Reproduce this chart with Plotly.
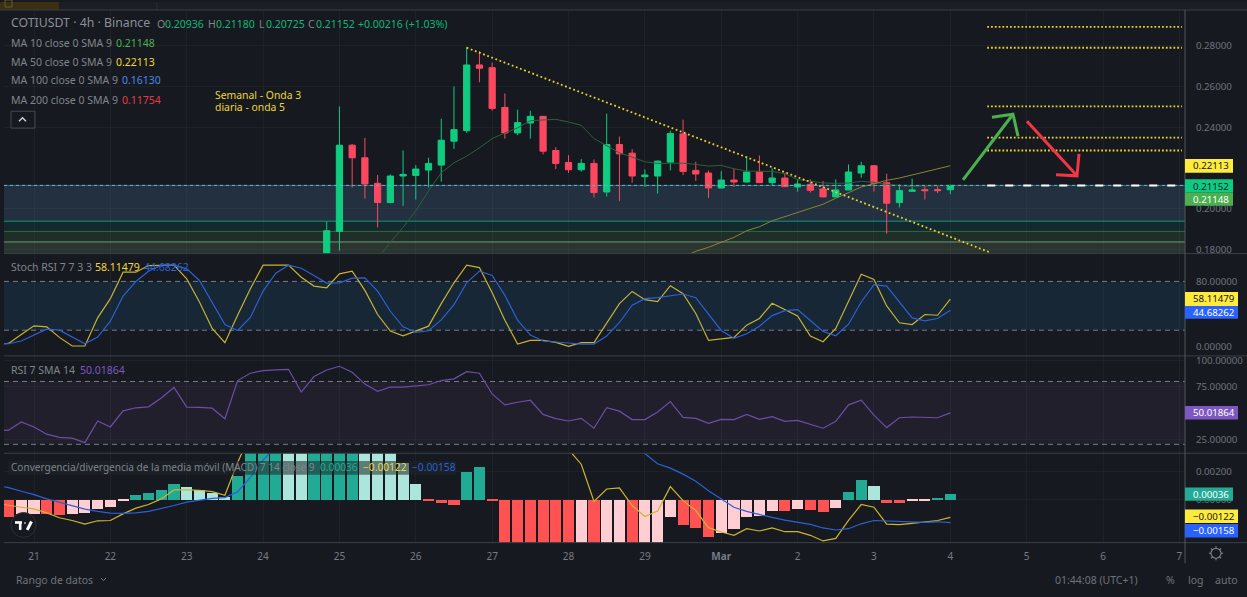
import plotly.graph_objects as go

W, H = 1247, 597
BG = "#161a20"
FONT = "Noto Sans"

# ---------- data ----------
candle_first_bar = 23
opens = [.17000,.18894,.23122,.22504,.21252,.20309,.21610,.21642,.21903,.22146,.23317,.23837,.27057,.26927,.24976,.23724,.24211,.24537,.22862,.22276,.21919,.22228,.20829,.23155,.22732,.21577,.21609,.22292,.23675,.21886,.21756,.21024,.21414,.21317,.21805,.21284,.21512,.21073,.21203,.20975,.20585,.20927,.21756,.22114,.21284,.20309,.20861,.20943,.20943,.20936]
highs = [.19382,.25024,.23187,.23480,.21659,.21691,.22862,.22146,.22504,.24423,.26000,.27951,.27740,.27171,.25659,.24862,.24813,.24537,.23024,.22634,.22439,.22423,.24667,.23545,.22927,.21935,.22374,.23837,.24374,.22309,.21886,.21853,.21967,.22585,.22618,.21983,.21772,.21447,.21447,.21366,.21447,.22179,.22309,.22146,.21723,.21203,.21479,.21122,.21171,.21180]
lows = [.16900,.17951,.21041,.20504,.19090,.20276,.20146,.20455,.21041,.21333,.22943,.23724,.26211,.24813,.23447,.23610,.23447,.22667,.21951,.21756,.21821,.20553,.20602,.20390,.21285,.21073,.20748,.21886,.21658,.21366,.20536,.21010,.21073,.21284,.21284,.21170,.21073,.20845,.20796,.20585,.20569,.20927,.21528,.20845,.18780,.20065,.20845,.20455,.20780,.20725]
closes = [.18927,.23122,.22504,.21220,.20309,.21610,.21691,.21951,.22228,.23366,.23886,.27057,.26894,.24927,.23724,.24228,.24537,.22829,.22228,.21919,.22228,.20797,.23155,.22699,.21610,.21659,.22341,.23691,.21837,.21707,.21024,.21414,.21317,.21805,.21284,.21512,.21089,.21219,.20910,.20585,.20927,.21805,.22114,.21252,.20276,.20894,.20927,.20894,.20894,.21152]

ma10_first_bar = 27
ma10 = [.17545,.18358,.19090,.19903,.20878,.21772,.22260,.22585,.22992,.23447,.23724,.23968,.24325,.24374,.24390,.24260,.24098,.23447,.23106,.22748,.22537,.22309,.22228,.22244,.22244,.22179,.22097,.22130,.21967,.21853,.21837,.21837,.21723,.21431,.21366,.21268,.21252,.21268,.21349,.21301,.21203,.21154,.21089,.21122,.21122,.21148]
ma50_first_bar = 51
ma50 = [.17626,.17918,.18114,.18374,.18601,.18927,.19122,.19414,.19626,.19821,.20032,.20227,.20520,.20796,.21073,.21235,.21398,.21512,.21658,.21805,.21967,.22113]

trend_bars = [34.0, 75.1]
trend_prices = [.27902, .17868]
level_bars = [74.9, 90.2]
fib_levels = [.28927, .27902, .25024, .23498, .22863]
last_price = .2115
zone_levels = [.2115, .19395, .18893, .18376, .17805]
zone_colors = ["#22303f", "#14292e", "#1f2e29", "#2a352f"]
zone_lines = ["#2f6f8f", "#12977f", "#2f6b3a", "#6f9a76"]

ind_first_bar = -3
stoch_k = [2.6,3.8,14.8,25.4,24.2,11.2,.6,.6,35.2,58.8,91.3,91.3,99.5,100,100,83.2,54.7,22.2,4.7,38.4,71,100,100,100,85.2,74.3,72.2,89.3,92.6,69,39.3,18.9,13.2,18.9,25,52.7,78.3,100,97,66.1,32.3,3,7.5,7.5,5.1,.2,4.7,4.7,29.1,52.7,67.7,57.6,55.1,74.7,64.9,40.5,7.5,9.1,11.2,26.2,34.4,53.1,45.8,37.6,12.8,5.9,22.2,54.7,88.9,82.4,49.8,29.1,27,39.3,38.4,58.11]
stoch_d = [2.6,3.4,6.7,14,21.3,20.1,12,3.4,11.6,31.1,62,79.9,92.6,100,100,95.4,81.2,54.7,27,19.7,35.6,68.1,90.1,100,96.2,87.3,77.9,78.3,84,84.4,68.1,43.3,24.2,17.3,19.3,32.7,51.5,78.3,92.6,87.3,62.9,32.3,14,6.7,5.9,4.3,3,3,12.8,29.5,50.7,58.8,60,62.5,64.5,60,39.3,19.7,10,15.7,25,38,44.1,45.4,31.9,18.5,13.2,27.4,54.7,75.9,74.3,54.7,35.2,31.5,34.4,44.68]
rsi = [32.9,33.5,41.4,36.6,29.7,26.6,26,21.6,42.3,36.6,52,54.9,55.8,64.3,74.3,55.5,55.2,54.5,44.5,80.9,87.9,90.4,91,91.6,69.9,84.7,91,94.5,88.8,77.5,70.6,74.7,74.7,75.6,76.9,80.9,82.5,89.4,87.9,68.1,57.7,60.2,62.1,48.6,44.5,42.3,44.8,35.4,54.9,51.7,43.6,43.6,50.8,60.8,45.8,44.8,40.1,43.9,43.6,48.6,43.9,46.4,42,42.9,39.5,35.4,42,57.7,62.1,47.9,36,45.4,46.1,45.4,45.4,50.02]
macd = [-.00023,-.00039,-.00051,-.00062,-.0009,-.00124,-.00143,-.00168,-.00145,-.00143,-.00097,-.00057,-.00032,.00007,.00069,.00069,.00067,.00057,.00032,.0026,.005,.0065,.0075,.0078,.008,.0085,.009,.0092,.009,.009,.0088,.0086,.008,.0075,.0075,.008,.0082,.0095,.0098,.0085,.0075,.0068,.0065,.0055,.0048,.0035,.00248,-.00011,.00076,.00083,-.00039,-.00115,-.00078,.00092,-.00005,-.00074,-.00193,-.00223,-.00246,-.002,-.00216,-.00195,-.00221,-.00221,-.00246,-.00285,-.00267,-.00143,-.00032,-.00051,-.00168,-.00172,-.00163,-.00154,-.00143,-.00122]
signal = [.00103,.00085,.0006,.00037,.00007,-.00016,-.00039,-.00064,-.0008,-.00092,-.00094,-.0009,-.0008,-.00062,-.00039,-.00016,0,.00011,.00016,.00057,.00156,.00276,.0037,.0046,.0053,.006,.0066,.0071,.0074,.0077,.0078,.0079,.0079,.0078,.0077,.0076,.0078,.008,.0082,.0082,.008,.0078,.0075,.0072,.0068,.0062,.0058,.0055,.005,.0045,.0041,.00322,.00251,.00221,.00179,.00129,.00064,.00007,-.00051,-.0008,-.00103,-.00122,-.0014,-.00154,-.0017,-.00195,-.00209,-.002,-.00166,-.00143,-.00145,-.00149,-.00154,-.00156,-.00152,-.00158]
hist_first_bar = -2
hist = [-.00124,-.00099,-.00097,-.00103,-.00108,-.00097,-.00092,-.00064,-.00048,-.00011,.0003,.00048,.00069,.00108,.0009,.00064,.00048,.00021,.00163,.0036,.0045,.005,.0048,.0042,.0046,.0047,.0048,.005,.0046,.0042,.0036,.00253,.0011,-.00011,-.00023,-.00039,.00195,.0023,-.00011,-.0042,-.005,-.0055,-.0056,-.0058,-.006,-.0056,-.0058,-.0052,-.0045,-.0046,-.0038,-.0032,-.00124,-.00175,-.00195,-.00257,-.0023,-.00202,-.00124,-.00115,-.00076,-.0008,-.00064,-.00069,-.00085,-.00057,.00053,.00136,.00097,-.00021,-.00021,-.00009,-.00005,.00014,.00036]
hist_tone = "RPPRRPPPPPTTTTLLLLTTTTLLTTTTLLLLLRRRTTRRRRRRRPRPPRPPPRRRPPPPPRPRRPTTLRRPPTT"
tone_colors = {"R": "#ff5252", "P": "#ffcdd2", "T": "#22ab94", "L": "#ace5dc"}

day_ticks = [0, 6, 12, 18, 24, 30, 36, 42, 48, 54, 60, 66, 72, 78, 84, 90]
day_labels = ["21","22","23","24","25","26","27","28","29","<b>Mar</b>","2","3","4","5","6","7"]
price_ticks = [.18, .20, .24, .26, .28]
stoch_ticks = [0, 80]
rsi_ticks = [25, 75, 100]
macd_ticks = [0, .002]

# ---------- pixel layout ----------
LEFT, RIGHT = 4, 1185
panes = [(8, 253.3), (253.3, 356.3), (356.3, 454.3), (454.3, 544.3)]
ranges = [(.17805, .29756), (-11.6, 114.2), (11.5, 104.4), (-.00297, .00324)]
XR = [-2.357, 90.44]
def px(x): return x / W
def py(y): return 1 - y / H

def bars(first, n): return list(range(first, first + n))

fig = go.Figure()
AX = ["x", "x2", "x3", "x4"]
AY = ["y", "y2", "y3", "y4"]

fig.add_trace(go.Candlestick(
    x=bars(candle_first_bar, len(closes)), open=opens, high=highs, low=lows, close=closes,
    increasing=dict(line=dict(color="#10cc80", width=1), fillcolor="#10cc80"),
    decreasing=dict(line=dict(color="#fb4860", width=1), fillcolor="#fb4860"),
    whiskerwidth=0, hoverinfo="skip", xaxis="x", yaxis="y"))

def line(x, y, color, width=1, dash="solid", ax=0, opacity=1):
    fig.add_trace(go.Scatter(x=x, y=y, mode="lines", hoverinfo="skip",
                             line=dict(color=color, width=width, dash=dash), opacity=opacity,
                             xaxis=AX[ax], yaxis=AY[ax]))

line(bars(ma10_first_bar, len(ma10)), ma10, "#2f5f3a")
line(bars(ma50_first_bar, len(ma50)), ma50, "#8c8236")
line(trend_bars, trend_prices, "#e8d02c", 1.8, "1.8px,2.6px")
for lv in fib_levels:
    line(level_bars, [lv, lv], "#e8d02c", 1.8, "1.8px,2px")
line(XR, [last_price, last_price], "#62b6bb", 1, "dot")
line([level_bars[0], XR[1]], [last_price, last_price], "#ffffff", 2, "8px,10px")

n = len(stoch_k)
line(bars(ind_first_bar, n), stoch_k, "#c6b334", 1.2, ax=1)
line(bars(ind_first_bar, n), stoch_d, "#2a61d6", 1.2, ax=1)
line(bars(ind_first_bar, len(rsi)), rsi, "#6b4ea6", 1.2, ax=2)

fig.add_trace(go.Bar(x=bars(hist_first_bar, len(hist)), y=hist,
                     marker=dict(color=[tone_colors[t] for t in hist_tone], line=dict(width=0)),
                     width=.87, hoverinfo="skip", xaxis="x4", yaxis="y4"))
line(bars(ind_first_bar, len(macd)), macd, "#cdb52e", 1.2, ax=3)
line(bars(ind_first_bar, len(signal)), signal, "#2a61d6", 1.2, ax=3)

# the top-strip label sits above the price pane; a trace label does not push the margins as an annotation would
promo_bar, promo_price = -1.18, .29950
fig.add_trace(go.Scatter(x=[promo_bar], y=[promo_price], mode="text", text=["Promo ›"], textposition="middle right", hoverinfo="skip",
                         textfont=dict(family=FONT, size=9, color="#c98a1b"), xaxis="x", yaxis="y", cliponaxis=False))

shapes = []
def rect(x0, y0, x1, y1, fill, layer="above", border=None):
    shapes.append(dict(type="rect", xref="paper", yref="paper", x0=px(x0), x1=px(x1), y0=py(y0), y1=py(y1),
                       fillcolor=fill, layer=layer, line=dict(width=1 if border else 0, color=border or fill)))
def seg(pts, color, width=1, layer="above"):
    d = "M " + " L ".join(f"{px(a):.6f},{py(b):.6f}" for a, b in pts)
    shapes.append(dict(type="path", xref="paper", yref="paper", path=d, layer=layer,
                       line=dict(color=color, width=width)))

# zones in the price pane
for i, col in enumerate(zone_colors):
    shapes.append(dict(type="rect", xref="paper", yref="y", x0=px(LEFT), x1=px(RIGHT),
                       y0=zone_levels[i], y1=zone_levels[i + 1], fillcolor=col, layer="below", line=dict(width=0)))
    shapes.append(dict(type="line", xref="paper", yref="y", x0=px(LEFT), x1=px(RIGHT),
                       y0=zone_levels[i], y1=zone_levels[i], layer="below", line=dict(width=1, color=zone_lines[i])))

# indicator bands
for yref, lo, hi, col in [("y2", 20, 80, "#172736"), ("y3", 20, 80, "#221f2d")]:
    shapes.append(dict(type="rect", xref="paper", yref=yref, x0=px(LEFT), x1=px(RIGHT), y0=lo, y1=hi,
                       fillcolor=col, layer="below", line=dict(width=0)))
    for v in (lo, hi):
        shapes.append(dict(type="line", xref="paper", yref=yref, x0=px(LEFT), x1=px(RIGHT), y0=v, y1=v,
                           layer="below", line=dict(width=1, color="#787b86", dash="5px,4px")))

# top strip
rect(0, 0, W, 8, "#1b1e25", layer="below")
rect(0, 0, 59, 8, "#3b2f12", layer="below")
rect(5, -2, 12, 5, "rgba(0,0,0,0)", border="#6b5a2a")
seg([(157, 0), (157, 8)], "#2a2e36")

# separators + axis line
for y in [8, 253.3, 356.3, 454.3, 544.3]:
    seg([(0 if y == 8 else LEFT, y), (W, y)], "#3b3f47", 1)
seg([(RIGHT, 8), (RIGHT, 565)], "#50545c", 1)

# MACD legend veil
rect(8, 462, 456, 476, "rgba(30,36,40,.55)")

# collapse button
shapes.append(dict(type="rect", xref="paper", yref="paper", x0=px(11), x1=px(35), y0=py(110), y1=py(127),
                   fillcolor="rgba(0,0,0,0)", line=dict(color="#434651", width=1), layer="above"))
seg([(19, 120), (22.5, 116.5), (26, 120)], "#d1d4dc", 1.4)

# hand-drawn arrows
seg([(963, 179), (1013, 113)], "#4caf50", 3)
seg([(992, 116), (1013, 113), (1018, 135)], "#4caf50", 3)
seg([(1027, 120), (1077, 175)], "#f23645", 3)
seg([(1056, 174), (1077, 175), (1079, 153)], "#f23645", 3)

# logo
shapes.append(dict(type="circle", xref="paper", yref="paper", x0=px(11), x1=px(36), y0=py(514), y1=py(539),
                   fillcolor="#161a20", line=dict(color="#2a2e36", width=1), layer="above"))
seg([(15, 524), (22, 524)], "#ffffff", 2.6)
seg([(20.2, 524), (20.2, 531.5)], "#ffffff", 2.6)
seg([(24.5, 524.5), (25.5, 524.5)], "#ffffff", 2.2)
seg([(31.5, 523), (27.2, 531.5)], "#ffffff", 3)

# gear
shapes.append(dict(type="circle", xref="paper", yref="paper", x0=px(1211), x1=px(1221), y0=py(550), y1=py(560),
                   fillcolor="rgba(0,0,0,0)", line=dict(color="#787b86", width=1.2), layer="above"))
for a, b in [((1216, 548), (1216, 550)), ((1216, 560), (1216, 562)), ((1209, 555), (1211, 555)), ((1221, 555), (1223, 555)),
             ((1211, 550), (1212.5, 551.5)), ((1219.5, 558.5), (1221, 560)), ((1221, 550), (1219.5, 551.5)), ((1212.5, 558.5), (1211, 560))]:
    seg([a, b], "#787b86", 1.2)

# bottom chevron
seg([(101, 580), (103.5, 582.5), (106, 580)], "#787b86", 1)

ann = []
def txt(x, y, s, color, size=10.5, anchor="left"):
    ann.append(dict(xref="paper", yref="paper", x=px(x), y=py(y), text=s, showarrow=False, xanchor=anchor, yanchor="middle",
                    align=anchor, font=dict(family=FONT, size=size, color=color), borderpad=0, borderwidth=0))

GREY = "#80848d"
txt(11, 21, "COTIUSDT · 4h · Binance", "#8b8f97", 12.3)
txt(157, 22.5, "O", GREY); txt(165, 22.5, "0.20936", "#10b57a")
txt(208, 22.5, "H", GREY); txt(216, 22.5, "0.21180", "#10b57a")
txt(259, 22.5, "L", GREY); txt(266, 22.5, "0.20725", "#10b57a")
txt(308, 22.5, "C", GREY); txt(316, 22.5, "0.21152", "#10b57a")
txt(358, 22.5, "+0.00216 (+1.03%)", "#10b57a")
for y, s, vx, v, c in [(41, "MA 10 close 0 SMA 9", 116, "0.21148", "#4caf50"),
                       (60, "MA 50 close 0 SMA 9", 116, "0.22113", "#f2d73a"),
                       (79, "MA 100 close 0 SMA 9", 122, "0.16130", "#4a86e8"),
                       (99, "MA 200 close 0 SMA 9", 122, "0.11754", "#e53945")]:
    txt(11, y, s, GREY); txt(vx, y, v, c)
txt(214.5, 94, "Semanal - Onda 3", "#eed43a", 10.4)
txt(214.5, 105.5, "diaria - onda 5", "#eed43a", 10.4)

txt(11, 267, "Stoch RSI 7 7 3 3", GREY)
txt(95, 267, "58.11479", "#f2d73a"); txt(144, 267, "44.68262", "#2a61d6")
txt(11, 370, "RSI 7 SMA 14", GREY); txt(80, 370, "50.01864", "#7e57c2")
txt(11, 468, "Convergencia/divergencia de la media móvil (MACD) 7 14 close 9", GREY, 10.05)
txt(320, 468, "0.00036", "#22ab94", 10.2); txt(363, 468, "−0.00122", "#f2d73a", 10.2); txt(412, 468, "−0.00158", "#2a61d6", 10.2)

# value tags
for y0, y1, xr, s, bg, fg in [(158, 172, 1233, "0.22113", "#ffeb3b", "#131722"),
                              (178.5, 192, 1233, "0.21152", "#0ecb81", "#131722"),
                              (192, 205, 1233, "0.21148", "#4caf50", "#ffffff"),
                              (292, 306, 1238, "58.11479", "#ffeb3b", "#131722"),
                              (306, 319, 1238, "44.68262", "#2962ff", "#ffffff"),
                              (406.7, 420.3, 1238, "50.01864", "#7e57c2", "#ffffff"),
                              (488.7, 502, 1233, "0.00036", "#22ab94", "#ffffff"),
                              (511, 524.5, 1238, "−0.00122", "#ffeb3b", "#131722"),
                              (525.5, 539, 1238, "−0.00158", "#2962ff", "#ffffff")]:
    rect(RIGHT, y0, xr, y1, bg)
    txt(1193, (y0 + y1) / 2, s, fg, 9.7)

txt(16, 582, "Rango de datos", "#6f737c")
txt(1138, 582, "01:44:08 (UTC+1)", "#6f737c", 10.5, "right")
txt(1170, 582, "%", "#6f737c", 10.5, "center")
txt(1195.5, 582, "log", "#6f737c", 10.5, "center")
txt(1226.5, 582, "auto", "#6f737c", 10.5, "center")

layout = dict(width=W, height=H, margin=dict(l=0, r=0, t=0, b=0), autosize=False, paper_bgcolor=BG, plot_bgcolor=BG,
              showlegend=False, bargap=0, shapes=shapes, annotations=ann, hovermode=False,
              font=dict(family=FONT, size=10, color="#6f737c"))
GRID = "rgba(255,255,255,.035)"
TICKSETS = [(price_ticks, ".5f"), (stoch_ticks, ".5f"), (rsi_ticks, ".5f"), (macd_ticks, ".5f")]
for i, (top, bottom) in enumerate(panes):
    sfx = "" if i == 0 else str(i + 1)
    last = i == 3
    layout["xaxis" + sfx] = dict(domain=[px(LEFT), px(RIGHT)], range=XR, anchor=AY[i], tickmode="array", tickvals=day_ticks,
                                 ticktext=day_labels if last else [""] * len(day_ticks), showgrid=True, gridcolor=GRID, gridwidth=1,
                                 zeroline=False, showline=False, ticks="outside" if last else "", ticklen=4, tickcolor=BG,
                                 tickfont=dict(family=FONT, size=10, color="#787b86"), rangeslider=dict(visible=False), fixedrange=True)
    vals, fmt = TICKSETS[i]
    layout["yaxis" + sfx] = dict(domain=[py(bottom), py(top)], range=list(ranges[i]), anchor=AX[i], side="right", tickmode="array",
                                 tickvals=vals, tickformat=fmt, showgrid=i != 1, gridcolor=GRID, zeroline=False, showline=False,
                                 ticks="outside", ticklen=8, tickcolor="rgba(0,0,0,0)",
                                 tickfont=dict(family=FONT, size=9.7, color="#6f737c"), fixedrange=True)
fig.update_layout(**layout)
fig.write_html("out.html", config=dict(displayModeBar=False),
               post_script="document.body.style.margin='0';document.body.style.overflow='hidden';document.body.style.background='#161a20';")
